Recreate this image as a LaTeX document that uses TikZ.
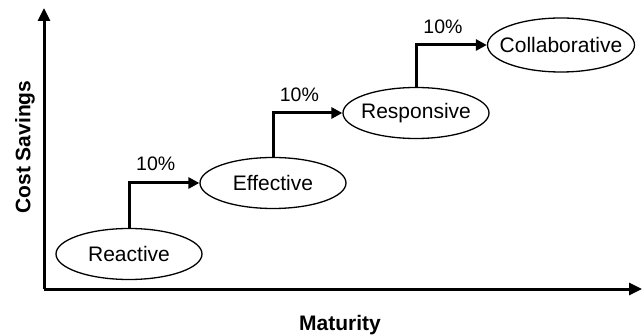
\documentclass[tikz,border=0pt]{standalone}
\usepackage{fontspec}
\setmainfont{Liberation Sans}
\usetikzlibrary{shapes.geometric,arrows.meta}
\newcommand{\zw}[1]{\makebox[0pt]{#1}}
\begin{document}
\begin{tikzpicture}[x=1pt,y=-1pt,
  stage/.style={ellipse,draw=black,line width=1.3pt,inner sep=0pt,minimum width=146pt,minimum height=51pt,font=\fontsize{21}{25}\selectfont},
  conn/.style={line width=3pt,-{Triangle[length=11pt,width=11pt]}},
  axis/.style={line width=3pt,-{Triangle[length=13pt,width=12pt]}},
  pct/.style={font=\fontsize{19.5}{22}\selectfont,inner sep=0pt},
  axlabel/.style={font=\bfseries\fontsize{21}{25}\selectfont}]
\useasboundingbox (0,0) rectangle (644,336);
\coordinate (o) at (44,289);
\coordinate (ytip) at (44,8);
\coordinate (xtip) at (642,289);
\draw[axis] (o) -- (ytip);
\draw[axis] (o) -- (xtip);
\node[axlabel,rotate=90] (ylab) at (25,147) {Cost Savings};
\node[axlabel] (xlab) at (340,325) {Maturity};
\node[stage] (r) at (129,254) {\zw{Reactive}};
\node[stage] (e) at (273,183) {\zw{Effective}};
\node[stage] (s) at (416,113) {\zw{Responsive}};
\node[stage,minimum width=147pt,minimum height=54pt] (c) at (561,45) {\zw{Collaborative}};
\draw[conn] (r.north) |- (e.west) node[pct,pos=0.69,yshift=19pt] (p1) {10\%};
\draw[conn] (e.north) |- (s.west) node[pct,pos=0.69,yshift=18pt] (p2) {10\%};
\draw[conn] (s.north) |- (c.west) node[pct,pos=0.69,yshift=18pt] (p3) {10\%};
\end{tikzpicture}
\end{document}
